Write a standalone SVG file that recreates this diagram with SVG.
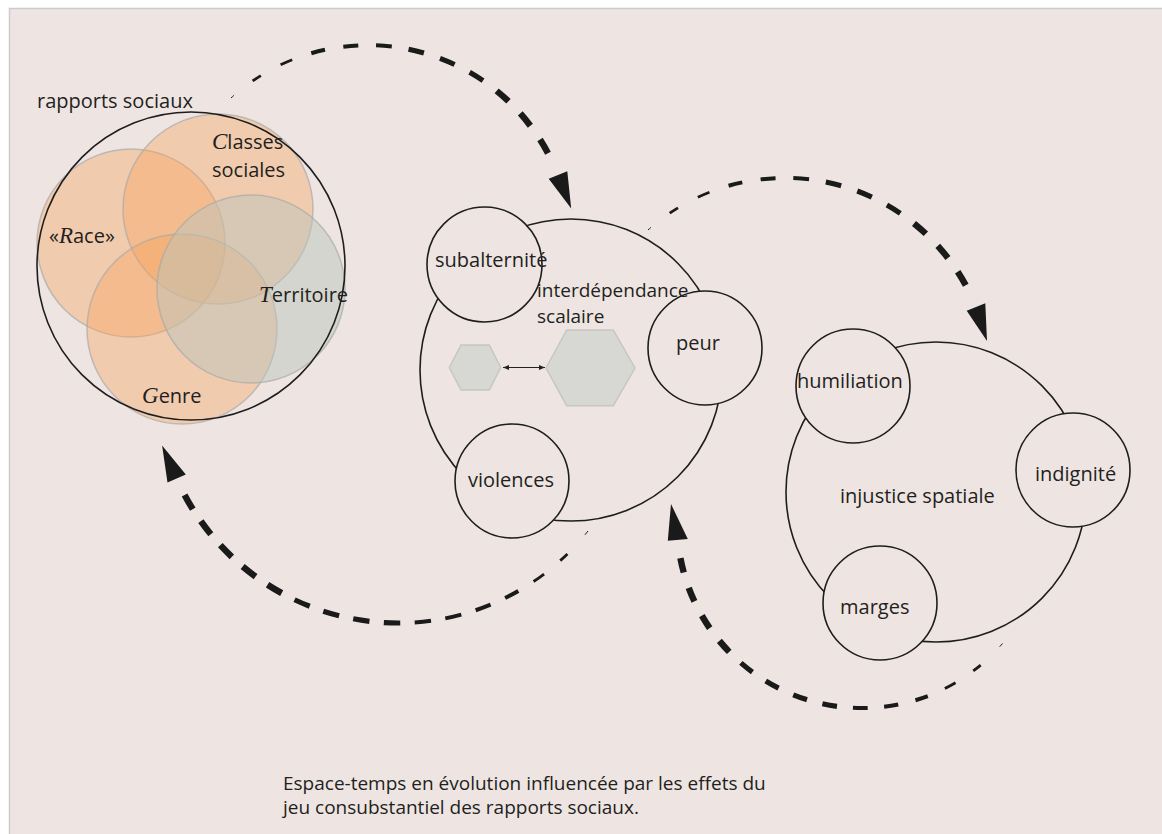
<svg xmlns="http://www.w3.org/2000/svg" xmlns:xlink="http://www.w3.org/1999/xlink" width="1162" height="834" viewBox="0 0 1162 834">
<style>
text{font-family:"Open Sans","Noto Sans","Liberation Sans",sans-serif;fill:#231f20;font-size:20px}
.cap{font-family:"Liberation Serif",serif;font-style:italic;font-size:23px}
.foot{font-size:19px}
.sm{font-size:19px}
.big{fill:none;stroke:#1e1e1e;stroke-width:1.6}
.node{fill:#eee5e3;stroke:#1e1e1e;stroke-width:1.6}
.venn{stroke:#a9a9a9;stroke-width:1.5;stroke-opacity:.7}
.orange{fill:#f6a05a;fill-opacity:.38}
.gray{fill:#bcc6bc;fill-opacity:.5}
.hex{fill:#d7d8d3;stroke:#c6c6c2;stroke-width:1.5}
.dash{fill:none;stroke:#1a1a1a;stroke-linecap:butt}
.w1{stroke-width:1}
.w2{stroke-width:2.8}
.w3{stroke-width:4}
.w4{stroke-width:5.2}
.w5{stroke-width:6.4}
.head{fill:#1a1a1a}
.thin{fill:none;stroke:#222;stroke-width:1.2}
</style>
<defs>
<marker id="sm" viewBox="0 0 10 10" refX="10" refY="5" markerWidth="7" markerHeight="6" markerUnits="userSpaceOnUse" orient="auto-start-reverse"><path d="M0,1 L10,5 L0,9 Z" fill="#222"/></marker>
<path id="arc1" d="M231,98 A204,204 0 0 1 558,175" pathLength="100"/>
<path id="arc2" d="M648,230 A206,206 0 0 1 976,307" pathLength="100"/>
<path id="arc3" d="M588,531 A242,242 0 0 1 176.6,478.5" pathLength="100"/>
<path id="arc4" d="M1002.5,643.5 A185,185 0 0 1 677.8,539.8" pathLength="100"/>
</defs>
<rect x="0" y="0" width="1162" height="834" fill="#ffffff"/>
<rect x="9.5" y="8.5" width="1160" height="830" fill="#eee5e3" stroke="#cccccc" stroke-width="1.5"/>

<g id="rapports-sociaux">
<circle class="venn orange" cx="131" cy="243" r="94"/>
<circle class="venn orange" cx="218" cy="209" r="95"/>
<circle class="venn orange" cx="182" cy="329" r="95"/>
<circle class="venn gray" cx="251" cy="289" r="94"/>
<circle class="big" cx="191" cy="266" r="154" stroke-width="1.2"/>
<text x="37" y="108">rapports sociaux</text>
<text x="212" y="149"><tspan class="cap">C</tspan>lasses</text>
<text x="212" y="177">sociales</text>
<text x="49" y="243">«<tspan class="cap">R</tspan>ace»</text>
<text x="259" y="302"><tspan class="cap">T</tspan>erritoire</text>
<text x="142" y="403"><tspan class="cap">G</tspan>enre</text>
</g>

<g id="interdependance-scalaire">
<circle class="big" cx="571" cy="370" r="151"/>
<circle class="node" cx="484.5" cy="264.5" r="57.5"/>
<circle class="node" cx="705" cy="348" r="57"/>
<circle class="node" cx="512" cy="481" r="57"/>
<polygon class="hex" points="449.3,367.5 461,345 489.3,345 500.7,367.5 489.3,390 461,390"/>
<polygon class="hex" points="546,368 566.7,330 613.3,330 635,368 613.3,405.7 566.7,405.7"/>
<line class="thin" x1="503" y1="367.5" x2="545" y2="367.5" marker-start="url(#sm)" marker-end="url(#sm)"/>
<text x="435" y="267">subalternité</text>
<text class="sm" x="537" y="297">interdépendance</text>
<text class="sm" x="537" y="323">scalaire</text>
<text x="676" y="350">peur</text>
<text x="468" y="487">violences</text>
</g>

<g id="injustice-spatiale">
<circle class="big" cx="936" cy="492" r="150"/>
<circle class="node" cx="853" cy="386" r="57"/>
<circle class="node" cx="1073" cy="470" r="57"/>
<circle class="node" cx="880" cy="603" r="57"/>
<text x="797" y="388">humiliation</text>
<text x="1035" y="481">indignité</text>
<text x="840" y="503">injustice spatiale</text>
<text x="840" y="614">marges</text>
</g>

<g id="connectors">
<use xlink:href="#arc1" class="dash w1" style="stroke-dasharray:1 200"/>
<use xlink:href="#arc1" class="dash w2" style="stroke-dasharray:0 7 2.5 5.7 3.2 200"/>
<use xlink:href="#arc1" class="dash w3" style="stroke-dasharray:0 23.5 3.6 4.7 3.8 4.5 4 200"/>
<use xlink:href="#arc1" class="dash w4" style="stroke-dasharray:0 48.4 4 4.3 4 4.3 4 200"/>
<use xlink:href="#arc1" class="dash w5" style="stroke-dasharray:0 73.3 4 4.3 4 4.3 4 200"/>
<polygon class="head" points="548.7,178.7 567.3,171.3 571.2,208.6"/>

<use xlink:href="#arc2" class="dash w1" style="stroke-dasharray:1 200"/>
<use xlink:href="#arc2" class="dash w2" style="stroke-dasharray:0 7 2.5 5.7 3.2 200"/>
<use xlink:href="#arc2" class="dash w3" style="stroke-dasharray:0 23.5 3.6 4.7 3.8 4.5 4 200"/>
<use xlink:href="#arc2" class="dash w4" style="stroke-dasharray:0 48.4 4 4.3 4 4.3 4 200"/>
<use xlink:href="#arc2" class="dash w5" style="stroke-dasharray:0 73.3 4 4.3 4 4.3 4 200"/>
<polygon class="head" points="966.7,310.7 985.3,303.3 987,341"/>

<use xlink:href="#arc3" class="dash w1" style="stroke-dasharray:1 200"/>
<use xlink:href="#arc3" class="dash w2" style="stroke-dasharray:0 6.2 2 4.2 2.6 200"/>
<use xlink:href="#arc3" class="dash w3" style="stroke-dasharray:0 18.6 3 3.2 3.2 3 3.3 2.9 3.3 200"/>
<use xlink:href="#arc3" class="dash w4" style="stroke-dasharray:0 43.4 3.3 2.9 3.3 2.9 3.3 2.9 3.3 200"/>
<use xlink:href="#arc3" class="dash w5" style="stroke-dasharray:0 68.2 3.3 2.9 3.3 2.9 3.3 2.9 3.3 2.9 3.3 200"/>
<polygon class="head" points="185.8,474.5 167.5,482.5 162.1,445.6"/>

<use xlink:href="#arc4" class="dash w1" style="stroke-dasharray:1 200"/>
<use xlink:href="#arc4" class="dash w2" style="stroke-dasharray:0 7.1 2.2 4.9 2.8 200"/>
<use xlink:href="#arc4" class="dash w3" style="stroke-dasharray:0 21.3 3 4.1 3.3 3.8 3.4 200"/>
<use xlink:href="#arc4" class="dash w4" style="stroke-dasharray:0 42.6 3.4 3.7 3.4 3.7 3.4 3.7 3.4 200"/>
<use xlink:href="#arc4" class="dash w5" style="stroke-dasharray:0 71 3.4 3.7 3.4 3.7 3.4 3.7 3.4 200"/>
<polygon class="head" points="687.8,538.9 667.8,540.7 671,504"/>
</g>

<g id="legende">
<text class="foot" x="283" y="790">Espace-temps en évolution influencée par les effets du<tspan x="283" dy="23.5">jeu consubstantiel des rapports sociaux.</tspan></text>
</g>
</svg>
